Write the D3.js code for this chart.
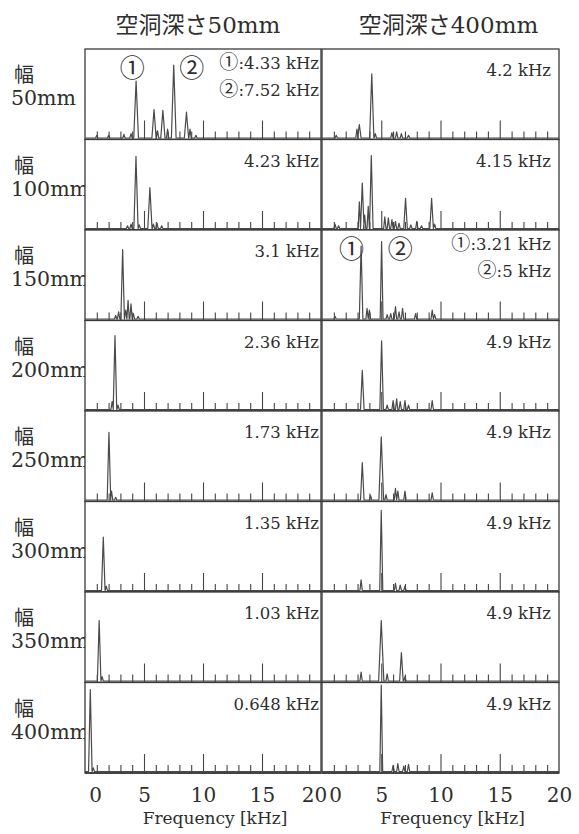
<!DOCTYPE html>
<html lang="ja">
<head>
<meta charset="UTF-8">
<title></title>
<script src="https://d3js.org/d3.v7.min.js"></script>
<style>
body{margin:0;background:#fff;}
text{fill:#2e2e2e;font-family:'DejaVu Serif','Noto Sans CJK JP',serif;}
.cjk{font-family:'Noto Sans CJK JP',sans-serif;}
</style>
</head>
<body>
<svg width="579" height="834"></svg>
<script>
// column titles, row labels
const depths = ['空洞深さ50mm', '空洞深さ400mm'];
const widths = ['50mm', '100mm', '150mm', '200mm', '250mm', '300mm', '350mm', '400mm'];

// peaks: [kHz, relative amplitude, half width kHz]
const spectraDepth50 = [
  [[1.0,0.03],[2.0,0.03],[3.3,0.04],[3.9,0.05],[4.33,0.64,0.2],[5.85,0.32,0.18],[6.15,0.08],[6.6,0.31,0.18],[7.0,0.1],[7.52,0.82,0.2],[8.6,0.29,0.18],[8.9,0.1],[9.4,0.03]],
  [[3.6,0.03],[3.9,0.05],[4.32,0.81,0.18],[4.6,0.04],[5.5,0.46,0.18],[5.8,0.05],[6.1,0.06],[6.5,0.03]],
  [[2.6,0.04],[2.85,0.08],[3.19,0.78,0.15],[3.45,0.1],[3.65,0.21],[3.9,0.17],[4.1,0.06],[4.5,0.03]],
  [[2.3,0.09],[2.54,0.83,0.15],[2.8,0.05]],
  [[2.03,0.76,0.15],[2.25,0.1],[2.6,0.03]],
  [[1.55,0.6,0.15],[1.8,0.05]],
  [[1.2,0.68,0.15],[1.45,0.05]],
  [[0.45,0.92,0.15],[0.7,0.04]]
];
const spectraDepth400 = [
  [[1.2,0.03],[2.95,0.1],[3.15,0.15,0.15],[4.2,0.72,0.18],[4.5,0.05],[5.9,0.06],[6.3,0.07],[6.7,0.05],[7.3,0.03]],
  [[1.1,0.05],[1.4,0.03],[3.15,0.3],[3.4,0.51,0.15],[3.6,0.15],[3.9,0.25],[4.16,0.82,0.15],[5.3,0.13],[5.6,0.12],[5.9,0.1],[6.2,0.08],[6.5,0.06],[7.05,0.34,0.15],[7.5,0.04],[8.0,0.08],[8.4,0.03],[9.25,0.34,0.15],[9.5,0.05]],
  [[1.1,0.03],[3.3,0.82,0.15],[3.8,0.12],[4.0,0.1],[5.03,0.87,0.12],[5.5,0.05],[5.8,0.06],[6.2,0.14],[6.5,0.08],[6.8,0.12],[7.9,0.06],[9.3,0.1],[9.5,0.05]],
  [[3.4,0.44,0.15],[5.03,0.77,0.15],[5.5,0.05],[6.0,0.1],[6.3,0.12],[6.6,0.09],[7.0,0.1],[7.3,0.05],[9.3,0.1]],
  [[3.4,0.42,0.15],[4.1,0.05],[5.0,0.71,0.2],[5.4,0.06],[6.2,0.13],[6.4,0.1],[7.0,0.1],[9.3,0.08]],
  [[3.3,0.12],[5.0,0.9,0.13],[6.2,0.08],[6.6,0.06],[7.0,0.05]],
  [[3.3,0.1],[5.0,0.68,0.22],[5.5,0.08],[6.7,0.32,0.15],[7.0,0.05]],
  [[5.0,0.97,0.12],[6.0,0.07],[6.4,0.09],[6.9,0.06],[7.3,0.08]]
];

const labelsDepth50 = [['①:4.33 kHz', '②:7.52 kHz'], ['4.23 kHz'], ['3.1 kHz'], ['2.36 kHz'], ['1.73 kHz'], ['1.35 kHz'], ['1.03 kHz'], ['0.648 kHz']];
const labelsDepth400 = [['4.2 kHz'], ['4.15 kHz'], ['①:3.21 kHz', '②:5 kHz'], ['4.9 kHz'], ['4.9 kHz'], ['4.9 kHz'], ['4.9 kHz'], ['4.9 kHz']];

const majorTicks = [5, 10, 15];
const minorTicks = [1, 2, 3, 4, 6, 7, 8, 9, 11, 12, 13, 14, 16, 17, 18, 19];
const tickLabels = [0, 5, 10, 15, 20];

// circled markers next to the peaks: [column, row, glyph, kHz]
const markers = [[0, 0, '①', 4.0], [0, 0, '②', 9.05], [1, 2, '①', 2.5], [1, 2, '②', 6.6]];

const svg = d3.select('svg');

const cols = [
  d3.scaleLinear().domain([0, 20]).range([85, 321]),
  d3.scaleLinear().domain([0, 20]).range([322, 559])
];
const row = d3.scaleLinear().domain([0, 8]).range([49, 773]);
const rowH = row(1) - row(0);
const spectra = [spectraDepth50, spectraDepth400];
const labels = [labelsDepth50, labelsDepth400];

const line = d3.line();

// column titles
svg.selectAll('.title').data(depths).enter().append('text')
  .attr('class', 'title')
  .attr('x', (d, i) => (cols[i].range()[0] + cols[i].range()[1]) / 2 + (i ? 8 : -5))
  .attr('y', 33)
  .attr('text-anchor', 'middle')
  .style('font-size', '23px')
  .text(d => d);

// row labels
widths.forEach((w, i) => {
  svg.append('text').attr('class', 'cjk').attr('x', 14).attr('y', row(i) + 33)
    .style('font-size', '20px').text('幅');
  svg.append('text').attr('x', 11).attr('y', row(i) + 56)
    .style('font-size', '20.5px').text(w);
});

cols.forEach((x, c) => {
  spectra[c].forEach((peaks, r) => {
    const top = row(r), bottom = row(r + 1);
    const y = d3.scaleLinear().domain([0, 1]).range([bottom - 1.5, top]);
    const g = svg.append('g');

    // white panel with frame
    g.append('rect')
      .attr('x', x(0)).attr('y', top)
      .attr('width', x(20) - x(0)).attr('height', rowH)
      .attr('fill', '#fff').attr('stroke', '#3a3a3a').attr('stroke-width', 1.3);

    // frequency ticks
    g.append('g').attr('transform', `translate(0,${bottom})`)
      .call(d3.axisTop(x).tickValues(minorTicks).tickSize(8).tickFormat(''))
      .call(s => s.select('.domain').remove())
      .selectAll('line').attr('stroke', '#444').attr('stroke-width', 1.1);
    g.append('g').attr('transform', `translate(0,${bottom})`)
      .call(d3.axisTop(x).tickValues(majorTicks).tickSize(19).tickFormat(''))
      .call(s => s.select('.domain').remove())
      .selectAll('line').attr('stroke', '#444').attr('stroke-width', 1.1);

    // spectrum
    const pts = [[0, 0]];
    peaks.slice().sort((a, b) => a[0] - b[0]).forEach(p => {
      const w = p[2] || 0.1;
      pts.push([p[0] - w, 0], [p[0], p[1]], [p[0] + w, 0]);
    });
    pts.push([20, 0]);
    g.append('path')
      .attr('d', line(pts.map(p => [x(p[0]), y(p[1])])))
      .attr('fill', 'none').attr('stroke', '#4a4a4a').attr('stroke-width', 1.2)
      .attr('stroke-linejoin', 'round');

    // baseline
    g.append('line')
      .attr('x1', x(0)).attr('x2', x(20)).attr('y1', bottom).attr('y2', bottom)
      .attr('stroke', '#333').attr('stroke-width', 1.6);

    // peak frequency labels
    const lab = labels[c][r];
    lab.forEach((t, k) => {
      const two = lab.length > 1;
      const txt = g.append('text')
        .attr('x', x(20) - (c ? 8 : 2))
        .attr('y', top + (two ? 20 + k * 27 : 27))
        .attr('text-anchor', 'end')
        .style('font-size', '16.5px');
      if (t[0] === '①' || t[0] === '②') {
        txt.append('tspan').attr('class', 'cjk').style('font-size', '19px').text(t[0]);
        txt.append('tspan').text(t.slice(1));
      } else {
        txt.text(t);
      }
    });
  });

  // frequency axis labels
  svg.append('g').attr('transform', `translate(0,${row(8)})`)
    .call(d3.axisBottom(x).tickValues(tickLabels).tickSize(0).tickPadding(15))
    .call(s => s.select('.domain').remove())
    .selectAll('text')
    .attr('dx', d => d === 0 ? (c ? 13 : 10) : (d === 20 && c === 0 ? -7 : 0))
    .style('font-size', '20px')
    .style('font-family', "'DejaVu Serif', serif")
    .attr('fill', '#2e2e2e');

  svg.append('text')
    .attr('x', x(10) + 12).attr('y', 824)
    .attr('text-anchor', 'middle')
    .style('font-size', '17px')
    .text('Frequency [kHz]');
});

// circled peak markers
svg.selectAll('.marker').data(markers).enter().append('text')
  .attr('class', 'cjk')
  .attr('x', d => cols[d[0]](d[3]))
  .attr('y', d => row(d[1]) + 28)
  .attr('text-anchor', 'middle')
  .style('font-size', '25px')
  .text(d => d[2]);
</script>
</body>
</html>
